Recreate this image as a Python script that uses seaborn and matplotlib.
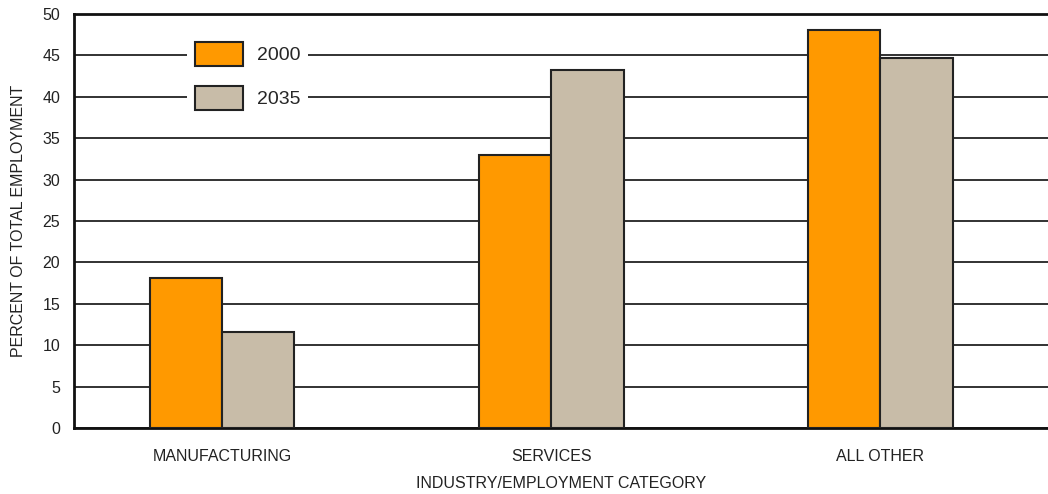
import numpy as np
import pandas as pd
import matplotlib
matplotlib.use("Agg")
import matplotlib.pyplot as plt
import seaborn as sns

categories = ["MANUFACTURING", "SERVICES", "ALL OTHER"]
years = ["2000", "2035"]
values_2000 = [18.1, 33.0, 48.1]
values_2035 = [11.6, 43.2, 44.7]

df = pd.DataFrame({
    "category": categories * 2,
    "year": [years[0]] * 3 + [years[1]] * 3,
    "percent": values_2000 + values_2035,
})

sns.set_style("white")
plt.rcParams["font.family"] = ["Liberation Sans", "DejaVu Sans"]

fig = plt.figure(figsize=(10.48, 4.94), dpi=100)
ax = fig.add_axes([74 / 1048, 66 / 494, 974 / 1048, 414 / 494])

sns.barplot(data=df, x="category", y="percent", hue="year", order=categories,
            hue_order=years, palette=["#ff9900", "#c8bca8"], width=0.44,
            edgecolor="#222222", linewidth=1.5, saturation=1, ax=ax, zorder=3)

ax.set_ylim(0, 50)
ax.set_xlim(-0.45, 2.51)
ax.set_yticks(np.arange(0, 51, 5))
ax.yaxis.grid(True, color="#222222", linewidth=1.3)
ax.set_axisbelow(True)
for s in ["left", "bottom", "top"]:
    ax.spines[s].set_color("#111111")
    ax.spines[s].set_linewidth(2)
ax.spines["right"].set_visible(False)
ax.tick_params(axis="both", length=0, labelsize=11.5, colors="#222222", pad=10)
ax.tick_params(axis="x", pad=15)
ax.set_ylabel("PERCENT OF TOTAL EMPLOYMENT", fontsize=11.5, color="#222222", labelpad=12)
ax.set_xlabel("INDUSTRY/EMPLOYMENT CATEGORY", fontsize=11.5, color="#222222", labelpad=9)

handles, labels = ax.get_legend_handles_labels()
ax.legend(handles, labels, loc="upper left", bbox_to_anchor=(0.106, 0.975),
          fontsize=14, handlelength=2.5, handleheight=1.5, labelspacing=1.05,
          handletextpad=0.7, borderpad=0.4, frameon=True, facecolor="white",
          edgecolor="none", framealpha=1, fancybox=False, title=None)

fig.savefig("out.png", dpi=100)
